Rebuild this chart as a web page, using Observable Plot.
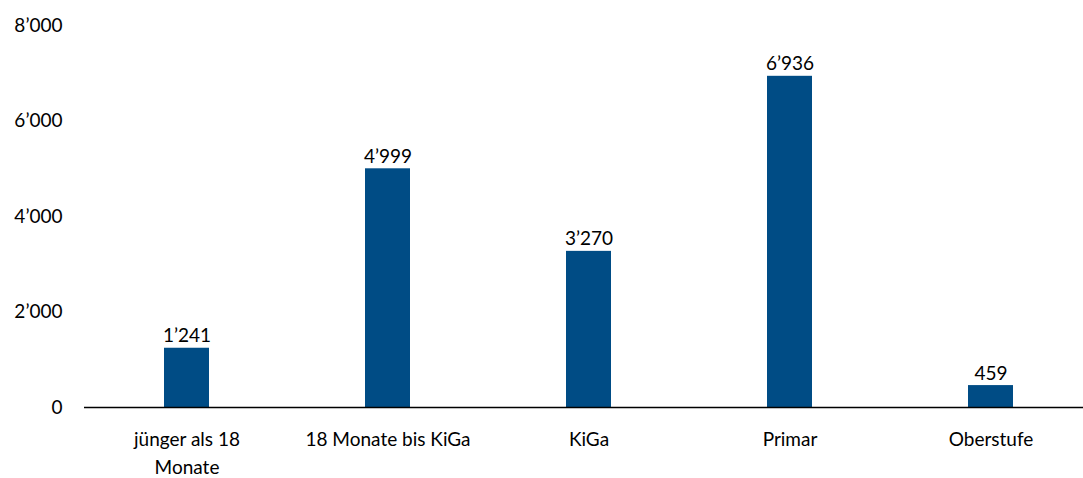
<!DOCTYPE html>
<html>
<head>
<meta charset="utf-8">
<script src="https://cdn.jsdelivr.net/npm/d3@7"></script>
<script src="https://cdn.jsdelivr.net/npm/@observablehq/plot@0.6"></script>
<style>
  html, body { margin: 0; padding: 0; background: #fff; }
  #chart svg { display: block; }
</style>
</head>
<body>
<div id="chart"></div>
<script>
const categories = ["jünger als 18 Monate", "18 Monate bis KiGa", "KiGa", "Primar", "Oberstufe"];
const values = [1241, 4999, 3270, 6936, 459];
const yTicks = [0, 2000, 4000, 6000, 8000];
const tickLabels = {"jünger als 18 Monate": "jünger als 18\nMonate"};

const data = categories.map((c, i) => ({category: c, value: values[i]}));
const fmt = v => d3.format(",")(v).replace(/,/g, "’");

const chart = Plot.plot({
  width: 1083,
  height: 478,
  marginLeft: 84,
  marginRight: 0,
  marginTop: 25,
  marginBottom: 71,
  style: {fontFamily: "Lato, sans-serif", fontSize: "19px", color: "#000", background: "#fff"},
  x: {domain: categories, range: [84, 1092], paddingInner: 0.777, paddingOuter: 0.3885, align: 0.5},
  y: {domain: [0, 8000]},
  marks: [
    Plot.ruleY(yTicks.filter(d => d > 0), {stroke: "#c8c8c8", strokeWidth: 1, x1: 84, x2: 1083}),
    Plot.axisY({ticks: yTicks, tickSize: 0, tickPadding: 22, tickFormat: fmt, fontSize: 19, label: null}),
    Plot.barY(data, {x: "category", y: "value", fill: "#004c85"}),
    Plot.ruleY([0], {stroke: "#000", strokeWidth: 1.5}),
    Plot.text(data, {x: "category", y: "value", text: d => fmt(d.value), lineAnchor: "bottom", dy: -6, fontSize: 19, fill: "#000"}),
    Plot.axisX({tickSize: 0, tickPadding: 19, tickFormat: d => tickLabels[d] || d, fontSize: 19, lineHeight: 1.45, label: null})
  ]
});
document.getElementById("chart").appendChild(chart);
</script>
</body>
</html>
